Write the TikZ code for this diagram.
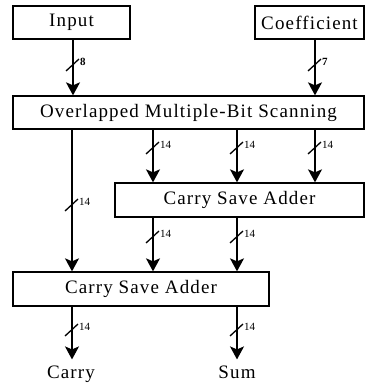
\documentclass[tikz,border=0pt]{standalone}
\usepackage{fontspec}
\setmainfont{Liberation Serif}[LetterSpace=6]
\newfontfamily\busfont{Liberation Serif}
\usetikzlibrary{arrows.meta}
\tikzset{
  block/.style={draw, line width=1.3pt, inner sep=0pt, font=\fontsize{19}{21}\selectfont},
  arr/.style={line width=1.4pt, -{Stealth[length=13pt,width=14pt,inset=3pt]}},
  outlabel/.style={inner sep=0pt, outer sep=0pt, anchor=base, font=\fontsize{19}{21}\selectfont},
  pics/busmark/.style={code={
    \draw[line width=1.3pt] (-7,6) -- (6,-6);
    \node[anchor=west, inner sep=0pt, font=\busfont\fontsize{11}{11}\selectfont] at (7,-3) {#1};
  }}
}
\begin{document}
\begin{tikzpicture}[x=1pt,y=-1pt]
  \useasboundingbox (0,0) rectangle (366,385);

  % blocks
  \node[block, minimum width=117pt, minimum height=33pt] (in)   at (71.5,22.5)  {Input};
  \node[block, minimum width=109pt, minimum height=33pt] (coef) at (309.5,22.5) {Coefficient};
  \node[block, minimum width=351pt, minimum height=33pt] (ovl)  at (188.5,112.5) {Overlapped Multiple-Bit Scanning};
  \node[block, minimum width=249pt, minimum height=34pt] (csa1) at (239.5,200)  {Carry Save Adder};
  \node[block, minimum width=256pt, minimum height=34pt] (csa2) at (141,289)    {Carry Save Adder};

  % outputs
  \node[outlabel] (carry) at (71,378) {Carry};
  \node[outlabel] (sum)   at (237,378) {Sum};

  % columns of the data paths
  \coordinate (xa) at (73,0);
  \coordinate (xb) at (153,0);
  \coordinate (xc) at (237,0);
  \coordinate (xd) at (315,0);
  \coordinate (xl) at (72,0);

  % inputs to the scanner
  \draw[arr] (in.south -| xa) -- (ovl.north -| xa);
  \draw[arr] (coef.south -| xd) -- (ovl.north -| xd);
  \pic at (73,65)  {busmark={\bfseries 8}};
  \pic at (315,65) {busmark={\bfseries 7}};

  % scanner to first adder
  \draw[arr] (ovl.south -| xb) -- (csa1.north -| xb);
  \draw[arr] (ovl.south -| xc) -- (csa1.north -| xc);
  \draw[arr] (ovl.south -| xd) -- (csa1.north -| xd);
  \pic at (153,148) {busmark=14};
  \pic at (237,148) {busmark=14};
  \pic at (315,148) {busmark=14};

  % bypass to second adder
  \draw[arr] (ovl.south -| xl) -- (csa2.north -| xl);
  \pic at (72,205) {busmark=14};

  % first adder to second adder
  \draw[arr] (csa1.south -| xb) -- (csa2.north -| xb);
  \draw[arr] (csa1.south -| xc) -- (csa2.north -| xc);
  \pic at (153,237) {busmark=14};
  \pic at (237,237) {busmark=14};

  % results
  \draw[arr, shorten >=6pt] (csa2.south -| xl) -- (carry.north -| xl);
  \draw[arr, shorten >=6pt] (csa2.south -| xc) -- (sum.north -| xc);
  \pic at (72,330)  {busmark=14};
  \pic at (237,330) {busmark=14};
\end{tikzpicture}
\end{document}
